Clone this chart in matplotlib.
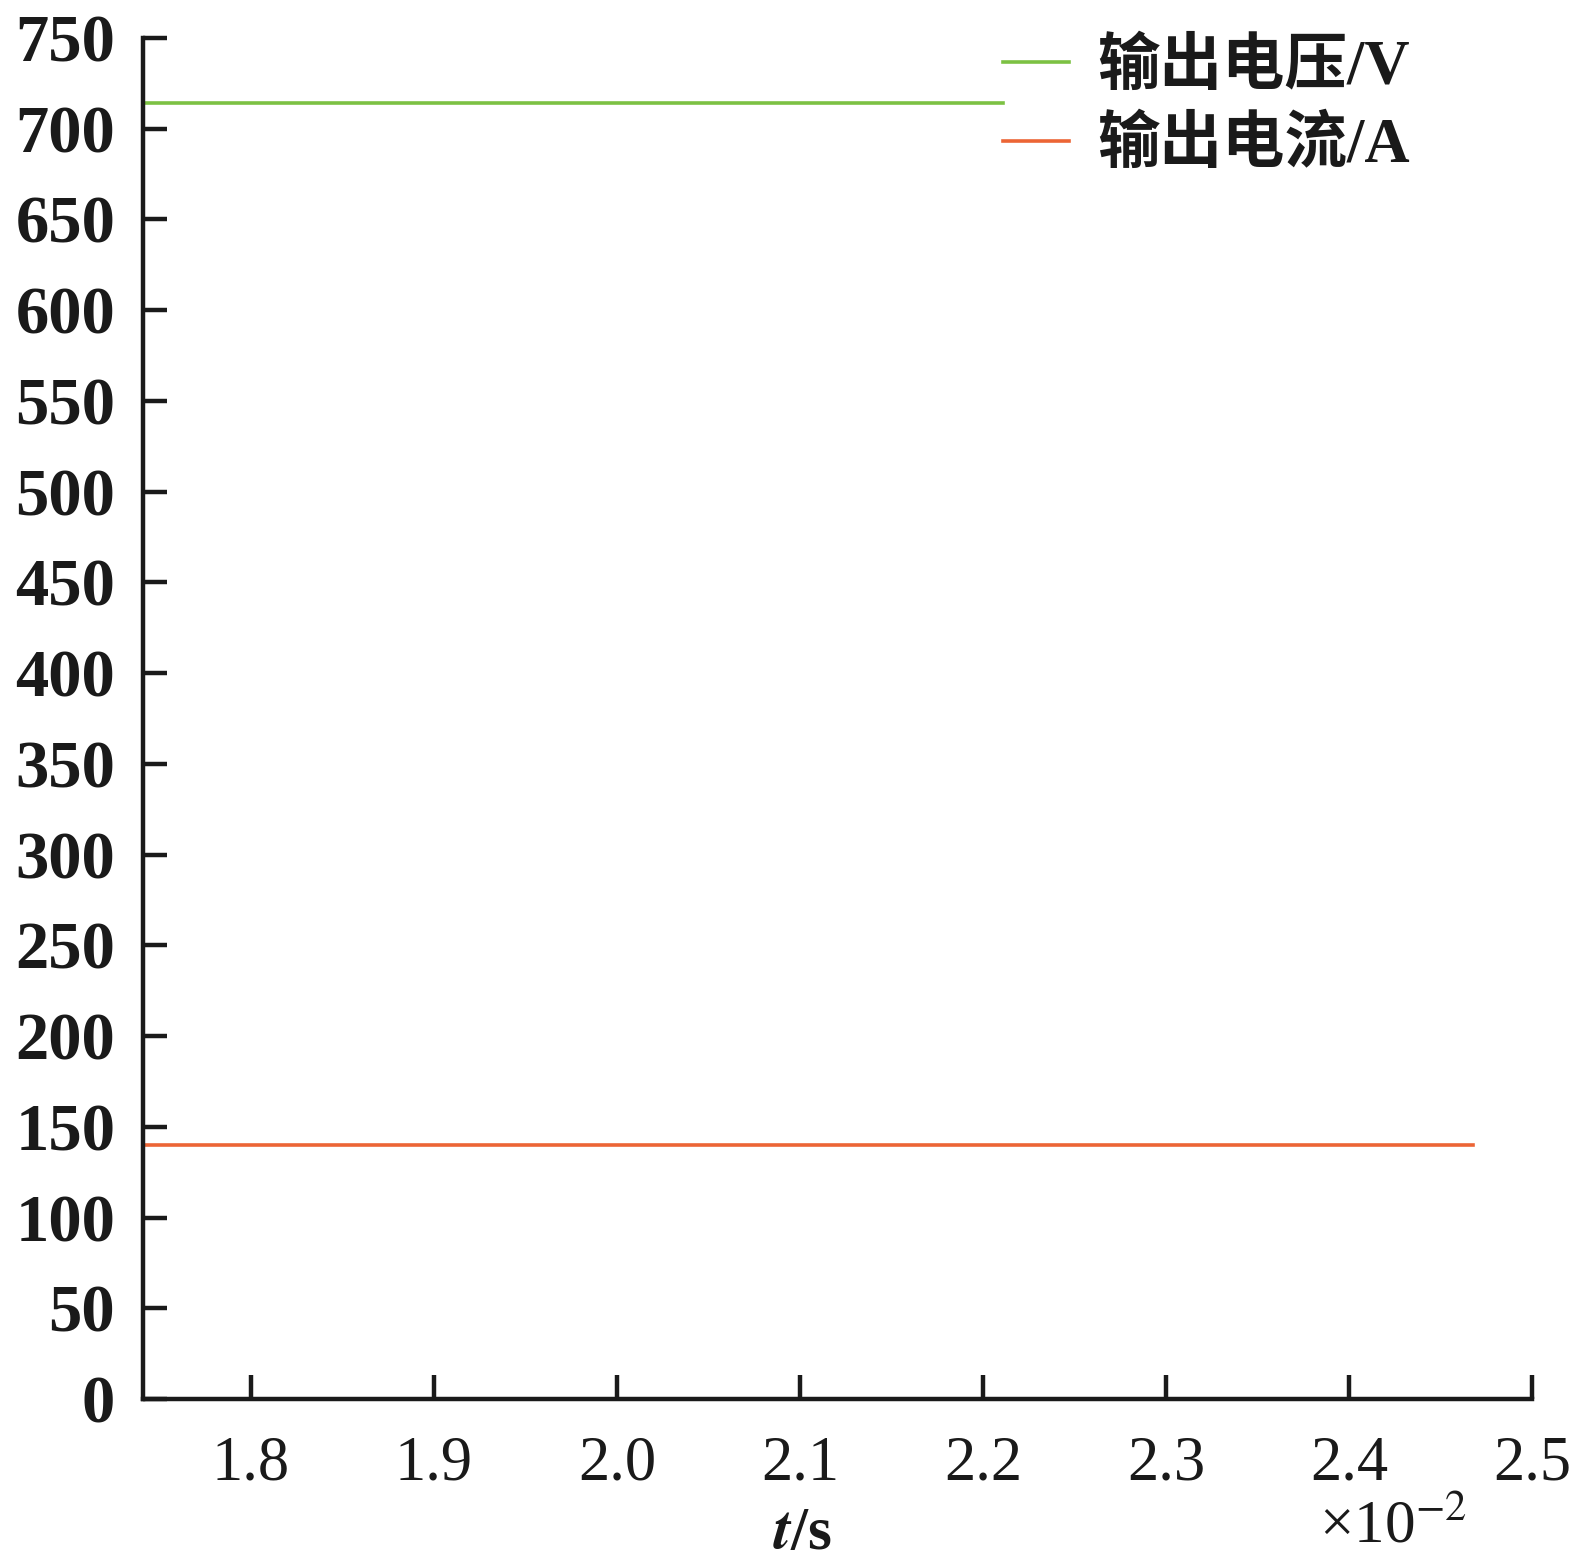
import matplotlib.pyplot as plt

plt.rcParams["mathtext.fontset"] = "stix"

# time in units of 1e-2 s
t_voltage = [1.741, 2.211]
u_voltage = [714, 714]
t_current = [1.741, 2.468]
i_current = [140, 140]

x_ticks = [1.8, 1.9, 2.0, 2.1, 2.2, 2.3, 2.4, 2.5]
y_ticks = list(range(0, 751, 50))

labels = ["输出电压/V", "输出电流/A"]
colors = ["#7cc143", "#ec6535"]

serif = ["Liberation Serif", "DejaVu Serif"]
cjk = ["Liberation Serif", "Noto Sans CJK SC"]

fig = plt.figure(figsize=(15.92, 15.63), dpi=100)
ax = fig.add_axes([0.0898, 0.1049, 0.8725, 0.8708])

ax.plot(t_voltage, u_voltage, color=colors[0], lw=2.6, label=labels[0])
ax.plot(t_current, i_current, color=colors[1], lw=2.6, label=labels[1])

ax.set_xlim(1.741, 2.5)
ax.set_ylim(0, 750)
ax.set_xticks(x_ticks)
ax.set_yticks(y_ticks)
ax.set_xticklabels([f"{v:.1f}" for v in x_ticks], family=serif, fontsize=45, color="#1a1a1a")
ax.set_yticklabels([str(v) for v in y_ticks], family=serif, fontsize=48, fontweight="bold", color="#1a1a1a")

for s in ["top", "right"]:
    ax.spines[s].set_visible(False)
for s in ["left", "bottom"]:
    ax.spines[s].set_linewidth(3.2)
    ax.spines[s].set_color("#1a1a1a")
ax.tick_params(axis="both", direction="in", length=17, width=3.2, color="#1a1a1a")
ax.tick_params(axis="y", pad=20)
ax.tick_params(axis="x", pad=26)

leg = ax.legend(loc="upper left", bbox_to_anchor=(0.615, 1.004), frameon=False,
                prop={"family": cjk, "size": 45, "weight": "bold"},
                handlelength=1.05, handletextpad=0.45, labelspacing=0.3,
                borderpad=0.1, borderaxespad=0)
for t in leg.get_texts():
    t.set_color("#1a1a1a")

fig.text(0.504, 0.009, "$\\boldsymbol{t}$/s", family=serif, fontsize=44, fontweight="bold",
         ha="center", va="baseline", color="#1a1a1a")
fig.text(0.875, 0.013, "×10$^{-2}$", family=serif, fontsize=44, ha="center", va="baseline", color="#1a1a1a")

fig.savefig("out.png", dpi=100)
